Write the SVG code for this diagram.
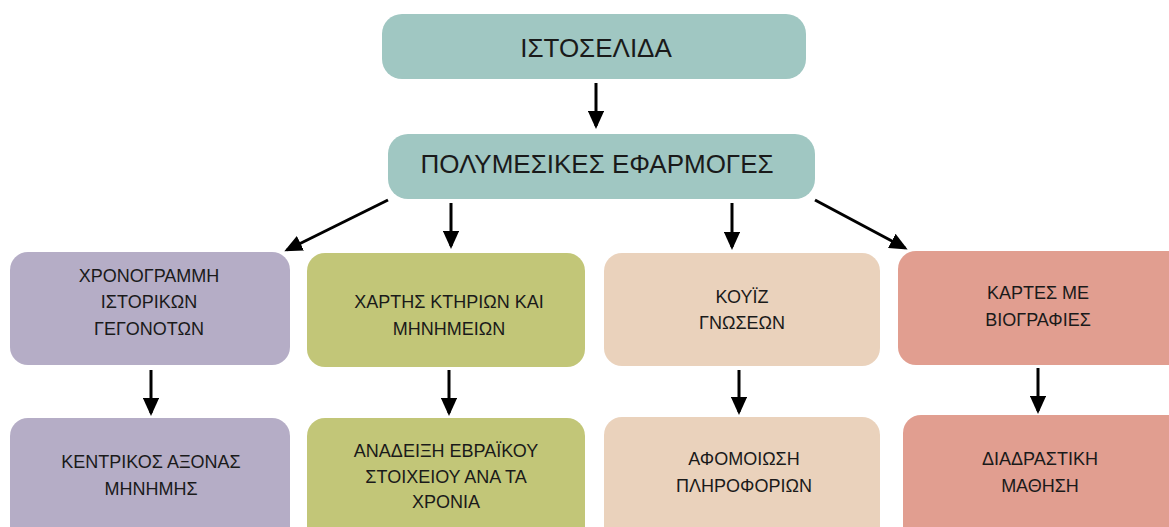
<svg xmlns="http://www.w3.org/2000/svg" width="1169" height="527" viewBox="0 0 1169 527">
<style>
text{font-family:"Liberation Sans",Arial,sans-serif;fill:#1a1a1a;text-anchor:middle}
.t{font-size:26px}
.s{font-size:18px}
.c{stroke:#000;stroke-width:3;fill:none;marker-end:url(#ah)}
</style>
<defs>
<marker id="ah" markerWidth="6" markerHeight="5.4" refX="5" refY="2.7" orient="auto" markerUnits="strokeWidth">
<path d="M0,0 L6,2.7 L0,5.4 Z" fill="#000"/>
</marker>
</defs>
<rect width="1169" height="527" fill="#fff"/>
<g id="n-istoselida">
<rect x="382" y="14" width="424" height="65" rx="20" fill="#A0C7C2"/>
<text class="t" x="596" y="57">ΙΣΤΟΣΕΛΙΔΑ</text>
</g>
<g id="n-polymesikes">
<rect x="388" y="134" width="427" height="65" rx="20" fill="#A0C7C2"/>
<text class="t" x="597" y="173">ΠΟΛΥΜΕΣΙΚΕΣ ΕΦΑΡΜΟΓΕΣ</text>
</g>
<g id="n-xronogrammi">
<rect x="10" y="252" width="280" height="113" rx="18" fill="#B5ADC6"/>
<text class="s" x="149" y="282">ΧΡΟΝΟΓΡΑΜΜΗ</text>
<text class="s" x="149" y="308">ΙΣΤΟΡΙΚΩΝ</text>
<text class="s" x="149" y="335">ΓΕΓΟΝΟΤΩΝ</text>
</g>
<g id="n-xartis">
<rect x="307" y="253" width="278" height="114" rx="18" fill="#C2C678"/>
<text class="s" x="449" y="308">ΧΑΡΤΗΣ ΚΤΗΡΙΩΝ ΚΑΙ</text>
<text class="s" x="449" y="335">ΜΗΝΗΜΕΙΩΝ</text>
</g>
<g id="n-kouiz">
<rect x="604" y="253" width="276" height="113" rx="18" fill="#EAD2BC"/>
<text class="s" x="742" y="303">ΚΟΥΪΖ</text>
<text class="s" x="742" y="329">ΓΝΩΣΕΩΝ</text>
</g>
<g id="n-kartes">
<rect x="898" y="251" width="290" height="114" rx="18" fill="#E19E90"/>
<text class="s" x="1038" y="299">ΚΑΡΤΕΣ ΜΕ</text>
<text class="s" x="1038" y="326">ΒΙΟΓΡΑΦΙΕΣ</text>
</g>
<g id="n-kentrikos">
<rect x="10" y="418" width="280" height="130" rx="18" fill="#B5ADC6"/>
<text class="s" x="151" y="468">ΚΕΝΤΡΙΚΟΣ ΑΞΟΝΑΣ</text>
<text class="s" x="151" y="495">ΜΗΝΗΜΗΣ</text>
</g>
<g id="n-anadeixi">
<rect x="307" y="418" width="278" height="130" rx="18" fill="#C2C678"/>
<text class="s" x="446" y="457">ΑΝΑΔΕΙΞΗ ΕΒΡΑΪΚΟΥ</text>
<text class="s" x="446" y="483">ΣΤΟΙΧΕΙΟΥ ΑΝΑ ΤΑ</text>
<text class="s" x="446" y="508">ΧΡΟΝΙΑ</text>
</g>
<g id="n-afomoiosi">
<rect x="604" y="417" width="276" height="130" rx="18" fill="#EAD2BC"/>
<text class="s" x="744" y="465">ΑΦΟΜΟΙΩΣΗ</text>
<text class="s" x="744" y="492">ΠΛΗΡΟΦΟΡΙΩΝ</text>
</g>
<g id="n-diadrastiki">
<rect x="903" y="415" width="290" height="130" rx="18" fill="#E19E90"/>
<text class="s" x="1040" y="465">ΔΙΑΔΡΑΣΤΙΚΗ</text>
<text class="s" x="1040" y="492">ΜΑΘΗΣΗ</text>
</g>
<g id="connectors">
<line class="c" x1="596" y1="83" x2="596" y2="126"/>
<line class="c" x1="388" y1="200" x2="287" y2="250"/>
<line class="c" x1="451" y1="203" x2="451" y2="246"/>
<line class="c" x1="732" y1="203" x2="732" y2="247"/>
<line class="c" x1="815" y1="200" x2="905" y2="248"/>
<line class="c" x1="151" y1="370" x2="151" y2="413"/>
<line class="c" x1="449" y1="370" x2="449" y2="413"/>
<line class="c" x1="739" y1="370" x2="739" y2="412"/>
<line class="c" x1="1038" y1="368" x2="1038" y2="411"/>
</g>
</svg>
